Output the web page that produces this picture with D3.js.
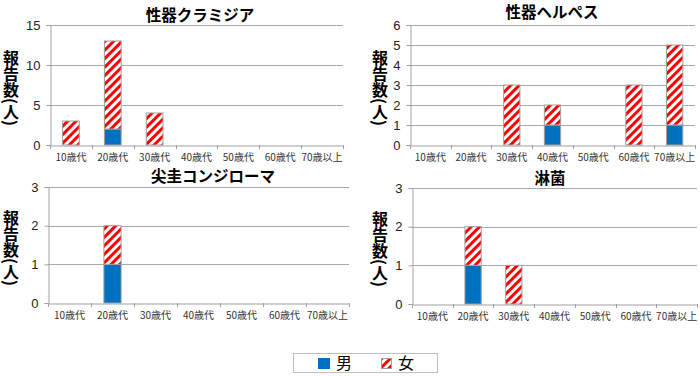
<!DOCTYPE html>
<html>
<head>
<meta charset="utf-8">
<script src="https://cdn.jsdelivr.net/npm/d3@7"></script>
<style>
  body { margin: 0; background: #fff; }
  svg text { font-family: "Noto Sans CJK JP", "Noto Sans", sans-serif; }
</style>
</head>
<body>
<svg id="chart" width="700" height="376"></svg>
<script>
  // age groups shared by every panel
  var ageGroups = ['10歳代', '20歳代', '30歳代', '40歳代', '50歳代', '60歳代', '70歳以上'];

  // reported counts: male / female per age group
  var chlamydiaMale = [0, 2, 0, 0, 0, 0, 0];
  var chlamydiaFemale = [3, 11, 4, 0, 0, 0, 0];
  var herpesMale = [0, 0, 0, 1, 0, 0, 1];
  var herpesFemale = [0, 0, 3, 1, 0, 3, 4];
  var condylomaMale = [0, 1, 0, 0, 0, 0, 0];
  var condylomaFemale = [0, 1, 0, 0, 0, 0, 0];
  var gonorrheaMale = [0, 1, 0, 0, 0, 0, 0];
  var gonorrheaFemale = [0, 1, 1, 0, 0, 0, 0];

  var titles = ['性器クラミジア', '性器ヘルペス', '尖圭コンジローマ', '淋菌'];
  var yMaxes = [15, 6, 3, 3];
  var yTicks = [[0, 5, 10, 15], [0, 1, 2, 3, 4, 5, 6], [0, 1, 2, 3], [0, 1, 2, 3]];
  var legendLabels = ['男', '女'];
  var yLabel = '報告数(人)';

  var panels = [
    {title: titles[0], male: chlamydiaMale, female: chlamydiaFemale, yMax: yMaxes[0], ticks: yTicks[0],
      box: {x0: 50, x1: 343, y0: 25, y1: 145}, titleX: 200, titleY: 21, labelX: 11},
    {title: titles[1], male: herpesMale, female: herpesFemale, yMax: yMaxes[1], ticks: yTicks[1],
      box: {x0: 410, x1: 695, y0: 25, y1: 145}, titleX: 552, titleY: 18, labelX: 380},
    {title: titles[2], male: condylomaMale, female: condylomaFemale, yMax: yMaxes[2], ticks: yTicks[2],
      box: {x0: 48, x1: 349, y0: 187, y1: 303}, titleX: 213, titleY: 182, labelX: 11},
    {title: titles[3], male: gonorrheaMale, female: gonorrheaFemale, yMax: yMaxes[3], ticks: yTicks[3],
      box: {x0: 412, x1: 697, y0: 188, y1: 304}, titleX: 550, titleY: 184, labelX: 380}
  ];

  var blue = '#0070c0', red = '#ff0000', grid = '#a8a8a8', edge = '#a0a0a0';

  var svg = d3.select('#chart');

  // diagonal red stripes for the female series
  svg.append('defs').append('pattern')
    .attr('id', 'hatch')
    .attr('patternUnits', 'userSpaceOnUse')
    .attr('width', 6).attr('height', 6)
    .attr('patternTransform', 'rotate(45)')
    .call(function (p) {
      p.append('rect').attr('width', 6).attr('height', 6).attr('fill', '#fff');
      p.append('rect').attr('width', 3).attr('height', 6).attr('fill', red);
    });

  function drawPanel(pn) {
    var b = pn.box;
    var x = d3.scaleBand().domain(ageGroups).range([b.x0, b.x1]).paddingInner(0.6).paddingOuter(0.3);
    var xb = d3.scaleBand().domain(ageGroups).range([b.x0, b.x1]);
    var y = d3.scaleLinear().domain([0, pn.yMax]).range([b.y1, b.y0]);
    var g = svg.append('g');

    // gridlines
    g.selectAll('.grid').data(pn.ticks.filter(function (t) { return t > 0; }))
      .enter().append('line')
      .attr('x1', b.x0).attr('x2', b.x1)
      .attr('y1', function (d) { return Math.round(y(d)) + 0.5; })
      .attr('y2', function (d) { return Math.round(y(d)) + 0.5; })
      .attr('stroke', grid);

    // y axis
    var ya = g.append('g').attr('transform', 'translate(' + (b.x0 + 0.5) + ',0)')
      .call(d3.axisLeft(y).tickValues(pn.ticks).tickFormat(d3.format('d')).tickSize(4).tickPadding(6));
    ya.select('.domain').attr('stroke', edge);
    ya.selectAll('.tick line').attr('stroke', edge);
    ya.selectAll('text').attr('font-size', 13).attr('fill', '#222')
      .style('font-family', '"Liberation Sans", Arial, sans-serif');

    // x axis
    var xa = g.append('g').attr('transform', 'translate(0,' + (Math.round(b.y1) + 0.5) + ')')
      .call(d3.axisBottom(xb).tickSize(0).tickPadding(8));
    xa.select('.domain').attr('stroke', edge);
    xa.selectAll('text').attr('font-size', 10).attr('fill', '#333');
    // band boundary tick marks
    g.selectAll('.xt').data(ageGroups.concat(['end']))
      .enter().append('line')
      .attr('x1', function (d, i) { return Math.round(b.x0 + i * xb.bandwidth()) + 0.5; })
      .attr('x2', function (d, i) { return Math.round(b.x0 + i * xb.bandwidth()) + 0.5; })
      .attr('y1', b.y1).attr('y2', b.y1 + 4)
      .attr('stroke', edge);

    // stacked bars
    var stacked = ageGroups.map(function (a, i) {
      return {age: a, m: pn.male[i], f: pn.female[i]};
    });
    g.selectAll('.male').data(stacked.filter(function (d) { return d.m > 0; }))
      .enter().append('rect')
      .attr('x', function (d) { return x(d.age); })
      .attr('width', x.bandwidth())
      .attr('y', function (d) { return y(d.m); })
      .attr('height', function (d) { return y(0) - y(d.m); })
      .attr('fill', blue).attr('stroke', edge);
    g.selectAll('.female').data(stacked.filter(function (d) { return d.f > 0; }))
      .enter().append('rect')
      .attr('x', function (d) { return x(d.age); })
      .attr('width', x.bandwidth())
      .attr('y', function (d) { return y(d.m + d.f); })
      .attr('height', function (d) { return y(d.m) - y(d.m + d.f); })
      .attr('fill', 'url(#hatch)').attr('stroke', edge);

    // title
    g.append('text').attr('x', pn.titleX).attr('y', pn.titleY)
      .attr('text-anchor', 'middle').attr('font-size', 15.5).attr('font-weight', 'bold')
      .text(pn.title);

    // vertical y label
    g.append('text')
      .attr('x', pn.labelX).attr('y', (b.y0 + b.y1) / 2 + 3)
      .attr('text-anchor', 'middle')
      .style('writing-mode', 'vertical-rl')
      .attr('font-size', 16).attr('font-weight', 'bold')
      .text(yLabel);
  }

  panels.forEach(drawPanel);

  // legend
  var lg = svg.append('g');
  lg.append('rect').attr('x', 293.5).attr('y', 353.5).attr('width', 144).attr('height', 19)
    .attr('fill', '#fff').attr('stroke', '#bfbfbf');
  lg.append('rect').attr('x', 318).attr('y', 358).attr('width', 12).attr('height', 11).attr('fill', blue);
  lg.append('text').attr('x', 336).attr('y', 369).attr('font-size', 16).text(legendLabels[0]);
  lg.append('rect').attr('x', 381.5).attr('y', 358.5).attr('width', 10).attr('height', 10)
    .attr('fill', 'url(#hatch)').attr('stroke', edge);
  lg.append('text').attr('x', 398).attr('y', 369).attr('font-size', 16).text(legendLabels[1]);
</script>
</body>
</html>
